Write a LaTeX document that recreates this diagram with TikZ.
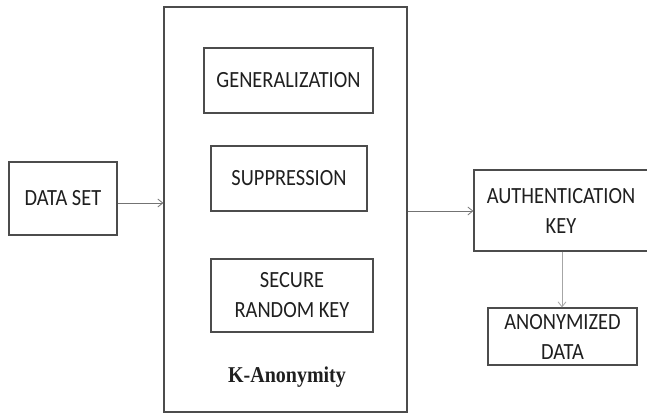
\documentclass[tikz,border=0pt]{standalone}
\usepackage{fontspec}
\setmainfont{Carlito}[FakeStretch=0.88]
\newfontfamily\timesfont{Liberation Serif}[FakeStretch=0.885]
\usetikzlibrary{arrows.meta}
\begin{document}
\begin{tikzpicture}[x=1pt,y=-1pt,
  box/.style={draw=black!70,line width=1.2pt,inner sep=0pt,align=center,font=\fontsize{23.2}{30}\selectfont,text=black!88},
  conn/.style={draw=black!55,line width=0.8pt,-{Straight Barb[length=5pt,width=8pt]}}]
\useasboundingbox (0,0) rectangle (647,414);
\node[box,minimum width=108pt,minimum height=73pt] (ds) at (63,198.5) {DATA SET};
\node[box,minimum width=243pt,minimum height=405pt] (ka) at (285.5,209.5) {};
\node[box,minimum width=169pt,minimum height=65pt] (gen) at (288.5,80.5) {GENERALIZATION};
\node[box,minimum width=156pt,minimum height=65pt] (sup) at (289,178.5) {SUPPRESSION};
\node[box,minimum width=162pt,minimum height=73pt] (srk) at (292,295.5) {SECURE\\RANDOM KEY};
\node[font=\timesfont\bfseries\fontsize{22.6}{26}\selectfont,text=black!88] (kl) at (287,377) {K-Anonymity};
\node[box,minimum width=174pt,minimum height=81pt] (auth) at (561,210.5) {AUTHENTICATION\\KEY};
\node[box,minimum width=149pt,minimum height=57pt] (anon) at (562.5,336.5) {ANONYMIZED\\DATA};
\draw[conn] (ds.east|-0,203) -- (ka.west|-0,203);
\draw[conn] (ka.east|-0,211) -- (auth.west|-0,211);
\draw[conn,draw=black!35] (auth.south-|562,0) -- (anon.north-|562,0);
\end{tikzpicture}
\end{document}
